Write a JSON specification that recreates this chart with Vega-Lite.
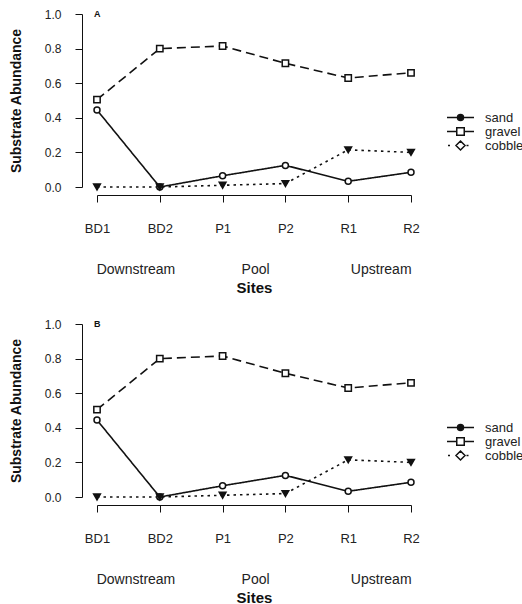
{
  "$schema": "https://vega.github.io/schema/vega-lite/v6.json",
  "padding": {"left": 9, "top": 8, "right": 0, "bottom": 0},
  "background": "white",
  "spacing": 23,
  "config": {
    "font": "Liberation Sans",
    "view": {"stroke": null},
    "axis": {"grid": false, "domainColor": "#111", "tickColor": "#111", "labelColor": "#222", "titleColor": "#111", "domainWidth": 1, "tickWidth": 1, "labelOverlap": false, "labelFlush": false},
    "axisX": {"title": "Sites", "titleFontSize": 15, "titleFontWeight": "bold", "titlePadding": 45, "labelFontSize": 13, "labelPadding": 20, "tickSize": 7, "offset": 8, "labelAngle": 0},
    "axisY": {"titleFontSize": 14, "titleFontWeight": "bold", "titlePadding": 21, "labelFontSize": 12, "labelPadding": 14, "tickSize": 7, "offset": 15}
  },
  "datasets": {
    "sub": [
      {"site": "BD1", "substrate": "sand", "value": 0.445},
      {"site": "BD2", "substrate": "sand", "value": 0.0},
      {"site": "P1", "substrate": "sand", "value": 0.065},
      {"site": "P2", "substrate": "sand", "value": 0.125},
      {"site": "R1", "substrate": "sand", "value": 0.033},
      {"site": "R2", "substrate": "sand", "value": 0.085},
      {"site": "BD1", "substrate": "gravel", "value": 0.505},
      {"site": "BD2", "substrate": "gravel", "value": 0.8},
      {"site": "P1", "substrate": "gravel", "value": 0.815},
      {"site": "P2", "substrate": "gravel", "value": 0.715},
      {"site": "R1", "substrate": "gravel", "value": 0.63},
      {"site": "R2", "substrate": "gravel", "value": 0.66},
      {"site": "BD1", "substrate": "cobble", "value": 0.0},
      {"site": "BD2", "substrate": "cobble", "value": 0.0},
      {"site": "P1", "substrate": "cobble", "value": 0.01},
      {"site": "P2", "substrate": "cobble", "value": 0.02},
      {"site": "R1", "substrate": "cobble", "value": 0.215},
      {"site": "R2", "substrate": "cobble", "value": 0.2}
    ]
  },
  "vconcat": [
    {
      "width": 314,
      "height": 173,
      "layer": [
        {
          "data": {"name": "sub"},
          "mark": {"type": "line", "stroke": "#111", "strokeWidth": 1.6, "strokeCap": "butt"},
          "encoding": {
            "x": {"field": "site", "type": "ordinal", "sort": null, "scale": {"type": "point", "domain": ["BD1", "BD2", "P1", "P2", "R1", "R2"], "padding": 0}, "axis": {"title": "Sites"}},
            "y": {"field": "value", "type": "quantitative", "scale": {"domain": [0, 1], "nice": false, "zero": false}, "axis": {"title": "Substrate Abundance", "values": [0, 0.2, 0.4, 0.6, 0.8, 1], "format": ".1f"}},
            "strokeDash": {"field": "substrate", "type": "nominal", "scale": {"domain": ["sand", "gravel", "cobble"], "range": [[1, 0], [9, 5], [2.5, 4]]}, "legend": null}
          }
        },
        {
          "data": {"name": "sub"},
          "mark": {"type": "point", "filled": true, "stroke": "#111", "strokeWidth": 1.5, "opacity": 1},
          "encoding": {
            "x": {"field": "site", "type": "ordinal", "axis": {"title": "Sites"}},
            "y": {"field": "value", "type": "quantitative", "axis": {"title": "Substrate Abundance", "values": [0, 0.2, 0.4, 0.6, 0.8, 1], "format": ".1f"}},
            "shape": {"field": "substrate", "type": "nominal", "scale": {"domain": ["sand", "gravel", "cobble"], "range": ["circle", "square", "triangle-down"]}, "legend": null},
            "fill": {"field": "substrate", "type": "nominal", "scale": {"domain": ["sand", "gravel", "cobble"], "range": ["white", "white", "#111"]}, "legend": null},
            "size": {"field": "substrate", "type": "ordinal", "scale": {"domain": ["sand", "gravel", "cobble"], "range": [36, 45, 110]}, "legend": null}
          }
        },
        {
          "data": {"name": "sub"},
          "transform": [{"filter": "datum.value > 5"}],
          "mark": {"type": "point", "filled": false, "stroke": "#111", "strokeWidth": 1.5, "size": 100, "opacity": 1},
          "encoding": {
            "x": {"field": "site", "type": "ordinal", "axis": {"title": "Sites"}},
            "y": {"field": "value", "type": "quantitative", "axis": {"title": "Substrate Abundance", "values": [0, 0.2, 0.4, 0.6, 0.8, 1], "format": ".1f"}},
            "shape": {"field": "substrate", "type": "nominal", "scale": {"domain": ["sand", "gravel", "cobble"], "range": ["M-2.7,0H2.7M-0.6,0A0.6,0.6,0,1,0,0.6,0A0.6,0.6,0,1,0,-0.6,0Z", "M-2.7,0H-0.75M0.75,0H2.7M-0.75,-0.75H0.75V0.75H-0.75Z", "M-2.5,0H-2.1M0,-0.9L0.9,0L0,0.9L-0.9,0ZM1.2,0H1.6"]},
              "legend": {"title": null, "orient": "none", "legendX": 357, "legendY": 97, "symbolSize": 100, "labelFontSize": 13, "labelOffset": 18, "rowPadding": -4, "labelColor": "#222",
                "encode": {"symbols": {"update": {"stroke": {"value": "#111"}, "strokeWidth": {"value": 1.5}, "opacity": {"value": 1}}}}}},
            "fill": {"field": "substrate", "type": "nominal", "scale": {"domain": ["sand", "gravel", "cobble"], "range": ["#111", "white", "white"]},
              "legend": {"title": null, "orient": "none", "legendX": 357, "legendY": 97, "symbolSize": 100, "labelFontSize": 13, "labelOffset": 18, "rowPadding": -4, "labelColor": "#222",
                "encode": {"symbols": {"update": {"stroke": {"value": "#111"}, "strokeWidth": {"value": 1.5}, "opacity": {"value": 1}}}}}}
          }
        },
        {
          "data": {"values": [{"panel": "A"}]},
          "mark": {"type": "text", "fontSize": 9, "fontWeight": "bold", "align": "left", "baseline": "middle", "dx": -3, "color": "#111"},
          "encoding": {"x": {"datum": "BD1", "type": "ordinal", "axis": {"title": "Sites"}}, "y": {"datum": 1, "type": "quantitative", "axis": {"title": "Substrate Abundance", "values": [0, 0.2, 0.4, 0.6, 0.8, 1], "format": ".1f"}}, "text": {"field": "panel", "type": "nominal"}}
        },
        {
          "data": {"values": [{"group": "Downstream"}]},
          "mark": {"type": "text", "fontSize": 14, "align": "center", "baseline": "middle", "dx": 39, "color": "#222"},
          "encoding": {"x": {"datum": "BD1", "type": "ordinal", "axis": {"title": "Sites"}}, "y": {"datum": -0.48, "type": "quantitative", "axis": {"title": "Substrate Abundance", "values": [0, 0.2, 0.4, 0.6, 0.8, 1], "format": ".1f"}}, "text": {"field": "group", "type": "nominal"}}
        },
        {
          "data": {"values": [{"group": "Pool"}]},
          "mark": {"type": "text", "fontSize": 14, "align": "center", "baseline": "middle", "dx": 33, "color": "#222"},
          "encoding": {"x": {"datum": "P1", "type": "ordinal", "axis": {"title": "Sites"}}, "y": {"datum": -0.48, "type": "quantitative", "axis": {"title": "Substrate Abundance", "values": [0, 0.2, 0.4, 0.6, 0.8, 1], "format": ".1f"}}, "text": {"field": "group", "type": "nominal"}}
        },
        {
          "data": {"values": [{"group": "Upstream"}]},
          "mark": {"type": "text", "fontSize": 14, "align": "center", "baseline": "middle", "dx": 33, "color": "#222"},
          "encoding": {"x": {"datum": "R1", "type": "ordinal", "axis": {"title": "Sites"}}, "y": {"datum": -0.48, "type": "quantitative", "axis": {"title": "Substrate Abundance", "values": [0, 0.2, 0.4, 0.6, 0.8, 1], "format": ".1f"}}, "text": {"field": "group", "type": "nominal"}}
        }
      ],
      "resolve": {"scale": {"shape": "independent", "fill": "independent", "size": "independent"}, "legend": {"shape": "independent", "fill": "independent"}}
    },
    {
      "width": 314,
      "height": 173,
      "layer": [
        {
          "data": {"name": "sub"},
          "mark": {"type": "line", "stroke": "#111", "strokeWidth": 1.6, "strokeCap": "butt"},
          "encoding": {
            "x": {"field": "site", "type": "ordinal", "sort": null, "scale": {"type": "point", "domain": ["BD1", "BD2", "P1", "P2", "R1", "R2"], "padding": 0}, "axis": {"title": "Sites"}},
            "y": {"field": "value", "type": "quantitative", "scale": {"domain": [0, 1], "nice": false, "zero": false}, "axis": {"title": "Substrate Abundance", "values": [0, 0.2, 0.4, 0.6, 0.8, 1], "format": ".1f"}},
            "strokeDash": {"field": "substrate", "type": "nominal", "scale": {"domain": ["sand", "gravel", "cobble"], "range": [[1, 0], [9, 5], [2.5, 4]]}, "legend": null}
          }
        },
        {
          "data": {"name": "sub"},
          "mark": {"type": "point", "filled": true, "stroke": "#111", "strokeWidth": 1.5, "opacity": 1},
          "encoding": {
            "x": {"field": "site", "type": "ordinal", "axis": {"title": "Sites"}},
            "y": {"field": "value", "type": "quantitative", "axis": {"title": "Substrate Abundance", "values": [0, 0.2, 0.4, 0.6, 0.8, 1], "format": ".1f"}},
            "shape": {"field": "substrate", "type": "nominal", "scale": {"domain": ["sand", "gravel", "cobble"], "range": ["circle", "square", "triangle-down"]}, "legend": null},
            "fill": {"field": "substrate", "type": "nominal", "scale": {"domain": ["sand", "gravel", "cobble"], "range": ["white", "white", "#111"]}, "legend": null},
            "size": {"field": "substrate", "type": "ordinal", "scale": {"domain": ["sand", "gravel", "cobble"], "range": [36, 45, 110]}, "legend": null}
          }
        },
        {
          "data": {"name": "sub"},
          "transform": [{"filter": "datum.value > 5"}],
          "mark": {"type": "point", "filled": false, "stroke": "#111", "strokeWidth": 1.5, "size": 100, "opacity": 1},
          "encoding": {
            "x": {"field": "site", "type": "ordinal", "axis": {"title": "Sites"}},
            "y": {"field": "value", "type": "quantitative", "axis": {"title": "Substrate Abundance", "values": [0, 0.2, 0.4, 0.6, 0.8, 1], "format": ".1f"}},
            "shape": {"field": "substrate", "type": "nominal", "scale": {"domain": ["sand", "gravel", "cobble"], "range": ["M-2.7,0H2.7M-0.6,0A0.6,0.6,0,1,0,0.6,0A0.6,0.6,0,1,0,-0.6,0Z", "M-2.7,0H-0.75M0.75,0H2.7M-0.75,-0.75H0.75V0.75H-0.75Z", "M-2.5,0H-2.1M0,-0.9L0.9,0L0,0.9L-0.9,0ZM1.2,0H1.6"]},
              "legend": {"title": null, "orient": "none", "legendX": 357, "legendY": 97, "symbolSize": 100, "labelFontSize": 13, "labelOffset": 18, "rowPadding": -4, "labelColor": "#222",
                "encode": {"symbols": {"update": {"stroke": {"value": "#111"}, "strokeWidth": {"value": 1.5}, "opacity": {"value": 1}}}}}},
            "fill": {"field": "substrate", "type": "nominal", "scale": {"domain": ["sand", "gravel", "cobble"], "range": ["#111", "white", "white"]},
              "legend": {"title": null, "orient": "none", "legendX": 357, "legendY": 97, "symbolSize": 100, "labelFontSize": 13, "labelOffset": 18, "rowPadding": -4, "labelColor": "#222",
                "encode": {"symbols": {"update": {"stroke": {"value": "#111"}, "strokeWidth": {"value": 1.5}, "opacity": {"value": 1}}}}}}
          }
        },
        {
          "data": {"values": [{"panel": "B"}]},
          "mark": {"type": "text", "fontSize": 9, "fontWeight": "bold", "align": "left", "baseline": "middle", "dx": -3, "color": "#111"},
          "encoding": {"x": {"datum": "BD1", "type": "ordinal", "axis": {"title": "Sites"}}, "y": {"datum": 1, "type": "quantitative", "axis": {"title": "Substrate Abundance", "values": [0, 0.2, 0.4, 0.6, 0.8, 1], "format": ".1f"}}, "text": {"field": "panel", "type": "nominal"}}
        },
        {
          "data": {"values": [{"group": "Downstream"}]},
          "mark": {"type": "text", "fontSize": 14, "align": "center", "baseline": "middle", "dx": 39, "color": "#222"},
          "encoding": {"x": {"datum": "BD1", "type": "ordinal", "axis": {"title": "Sites"}}, "y": {"datum": -0.48, "type": "quantitative", "axis": {"title": "Substrate Abundance", "values": [0, 0.2, 0.4, 0.6, 0.8, 1], "format": ".1f"}}, "text": {"field": "group", "type": "nominal"}}
        },
        {
          "data": {"values": [{"group": "Pool"}]},
          "mark": {"type": "text", "fontSize": 14, "align": "center", "baseline": "middle", "dx": 33, "color": "#222"},
          "encoding": {"x": {"datum": "P1", "type": "ordinal", "axis": {"title": "Sites"}}, "y": {"datum": -0.48, "type": "quantitative", "axis": {"title": "Substrate Abundance", "values": [0, 0.2, 0.4, 0.6, 0.8, 1], "format": ".1f"}}, "text": {"field": "group", "type": "nominal"}}
        },
        {
          "data": {"values": [{"group": "Upstream"}]},
          "mark": {"type": "text", "fontSize": 14, "align": "center", "baseline": "middle", "dx": 33, "color": "#222"},
          "encoding": {"x": {"datum": "R1", "type": "ordinal", "axis": {"title": "Sites"}}, "y": {"datum": -0.48, "type": "quantitative", "axis": {"title": "Substrate Abundance", "values": [0, 0.2, 0.4, 0.6, 0.8, 1], "format": ".1f"}}, "text": {"field": "group", "type": "nominal"}}
        }
      ],
      "resolve": {"scale": {"shape": "independent", "fill": "independent", "size": "independent"}, "legend": {"shape": "independent", "fill": "independent"}}
    }
  ]
}
